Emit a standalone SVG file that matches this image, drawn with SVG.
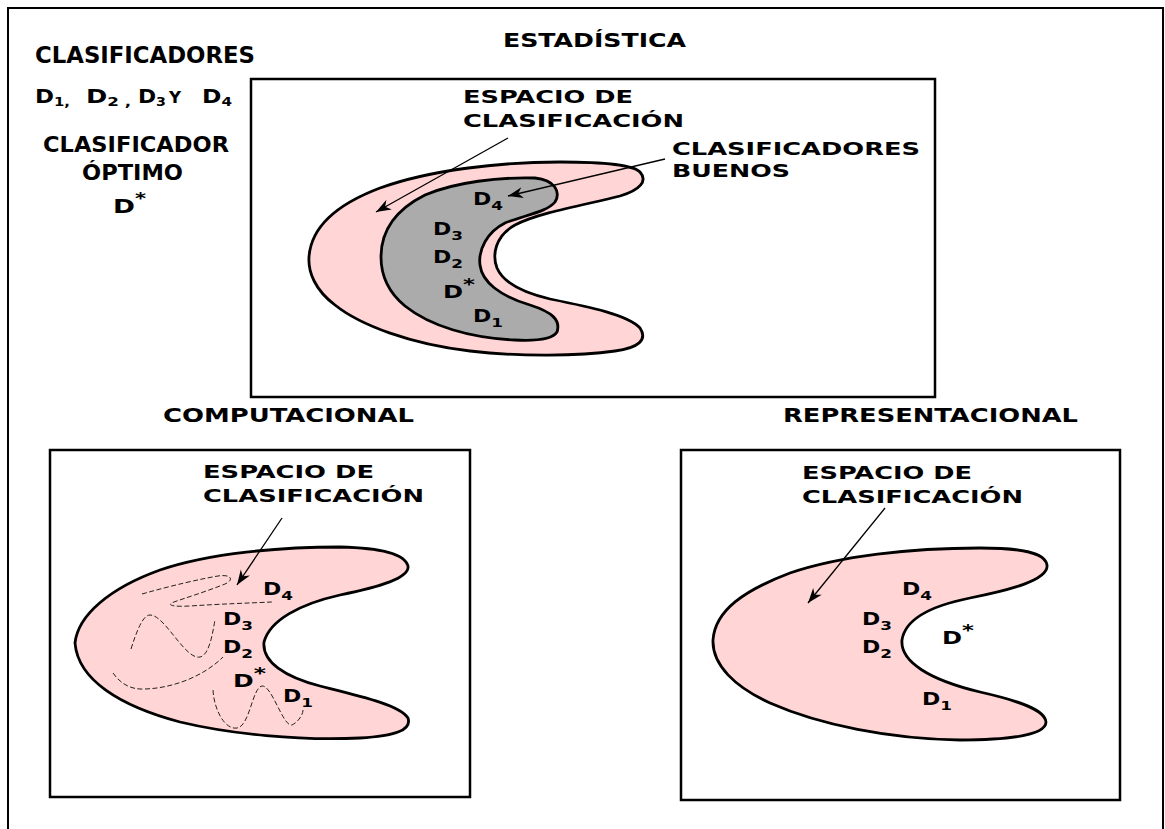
<svg xmlns="http://www.w3.org/2000/svg" width="1165" height="829" viewBox="0 0 1165 829">
<style>
text{font-family:"DejaVu Sans","Liberation Sans",sans-serif;font-weight:bold;fill:#000}
.box{fill:#fff;stroke:#000;stroke-width:2.5}
.region{fill:#ffd5d5;stroke:#000;stroke-width:2.8;stroke-linejoin:round}
.good{fill:#ababab;stroke:#000;stroke-width:2.8;stroke-linejoin:round}
.arrow{fill:none;stroke:#000;stroke-width:1.3;marker-end:url(#ah)}
.path{fill:none;stroke:#222;stroke-width:1;stroke-dasharray:5 2.5}
.hd{font-size:17.5px}
.ttl{font-size:19px}
.d{font-size:17px}
.sub{font-size:13px}
.sup{font-size:16px}
</style>
<defs>
<marker id="ah" viewBox="-16 -7 18 14" refX="0" refY="0" markerWidth="18" markerHeight="14" markerUnits="userSpaceOnUse" orient="auto">
<path d="M0,0 L-15,-5.5 L-10.5,0 L-15,5.5 Z" fill="#000"/>
</marker>
</defs>
<rect x="0" y="0" width="1165" height="829" fill="#fff"/>
<rect id="frame" x="8" y="8" width="1155" height="840" fill="none" stroke="#000" stroke-width="2"/>

<g id="legend">
<text x="35" y="63" font-size="22.5" textLength="220" lengthAdjust="spacingAndGlyphs">CLASIFICADORES</text>
<text x="35" y="103" font-size="20" textLength="35" lengthAdjust="spacingAndGlyphs">D<tspan class="sub" dy="3">1,</tspan></text>
<text x="86" y="103" font-size="20" textLength="45" lengthAdjust="spacingAndGlyphs">D<tspan class="sub" dy="3">2 ,</tspan></text>
<text x="138" y="103" font-size="20" textLength="28" lengthAdjust="spacingAndGlyphs">D<tspan class="sub" dy="3">3</tspan></text>
<text x="169" y="103" font-size="15.5" textLength="12" lengthAdjust="spacingAndGlyphs">Y</text>
<text x="202" y="103" font-size="20" textLength="30" lengthAdjust="spacingAndGlyphs">D<tspan class="sub" dy="3">4</tspan></text>
<text x="43" y="152" font-size="22" textLength="186" lengthAdjust="spacingAndGlyphs">CLASIFICADOR</text>
<text x="82" y="180" font-size="22" textLength="101" lengthAdjust="spacingAndGlyphs">ÓPTIMO</text>
<text x="113" y="213" font-size="20" textLength="33" lengthAdjust="spacingAndGlyphs">D<tspan class="sup" font-size="19" dy="-9">*</tspan></text>
</g>

<g id="estadistica">
<text class="ttl" x="503" y="47" textLength="183" lengthAdjust="spacingAndGlyphs">ESTADÍSTICA</text>
<rect class="box" x="251" y="79" width="684" height="318"/>
<path class="region" d="M309,257 C311,228 335,205 380,188 C430,170 500,162 560,162 C600,162 632,164 640,172 C648,181 640,190 620,196 C590,204 540,212 515,225 C495,236 492,255 497,268 C503,282 520,292 550,299 C590,307 628,315 640,328 C648,340 638,348 615,351 C580,356 520,357 470,351 C410,344 360,325 335,305 C315,290 308,272 309,257 Z"/>
<path class="good" d="M381,257 C381,232 395,210 425,195 C455,182 500,177 535,178 C555,180 561,192 555,202 C547,212 525,215 505,223 C487,232 478,250 480,265 C482,282 500,296 530,305 C552,312 561,320 557,332 C552,340 535,341 515,340 C470,338 430,326 405,306 C388,292 381,275 381,257 Z"/>
<text class="hd" x="463" y="103" textLength="170" lengthAdjust="spacingAndGlyphs">ESPACIO DE</text>
<text class="hd" x="463" y="127" textLength="221" lengthAdjust="spacingAndGlyphs">CLASIFICACIÓN</text>
<text class="hd" x="672" y="155" textLength="248" lengthAdjust="spacingAndGlyphs">CLASIFICADORES</text>
<text class="hd" x="672" y="177" textLength="118" lengthAdjust="spacingAndGlyphs">BUENOS</text>
<text class="d" x="473" y="205" textLength="30" lengthAdjust="spacingAndGlyphs">D<tspan class="sub" dy="5">4</tspan></text>
<text class="d" x="433" y="235" textLength="30" lengthAdjust="spacingAndGlyphs">D<tspan class="sub" dy="5">3</tspan></text>
<text class="d" x="433" y="263" textLength="30" lengthAdjust="spacingAndGlyphs">D<tspan class="sub" dy="5">2</tspan></text>
<text class="d" x="443" y="298" textLength="32" lengthAdjust="spacingAndGlyphs">D<tspan class="sup" dy="-8">*</tspan></text>
<text class="d" x="473" y="322" textLength="30" lengthAdjust="spacingAndGlyphs">D<tspan class="sub" dy="5">1</tspan></text>
</g>

<g id="computacional">
<text class="ttl" x="163" y="422" textLength="251" lengthAdjust="spacingAndGlyphs">COMPUTACIONAL</text>
<rect class="box" x="50" y="450" width="420" height="347"/>
<path class="region" d="M75,643 C78,615 110,588 160,570 C210,553 280,547 340,547 C385,548 405,555 408,566 C410,578 380,587 340,595 C300,604 270,620 264,642 C262,662 285,677 320,686 C360,696 400,705 408,718 C412,730 395,736 360,738 C300,741 230,734 180,722 C120,706 78,680 75,643 Z"/>
<text class="hd" x="203" y="478" textLength="171" lengthAdjust="spacingAndGlyphs">ESPACIO DE</text>
<text class="hd" x="203" y="502" textLength="221" lengthAdjust="spacingAndGlyphs">CLASIFICACIÓN</text>
<path class="path" d="M142,594 C170,586 200,579 218,576 C232,574 234,580 225,584 C205,592 185,598 174,602 C166,605 172,607 190,606 C220,604 250,603 272,602"/>
<path class="path" d="M131,649 C137,630 143,615 150,615 C165,615 185,660 200,657 C210,655 213,630 215,620"/>
<path class="path" d="M113,673 C120,683 130,690 145,689 C175,688 205,675 223,657"/>
<path class="path" d="M213,690 C214,710 225,730 237,728 C250,726 252,688 262,686 C272,685 283,727 292,725 C298,722 303,715 303,710"/>
<text class="d" x="263" y="595" textLength="30" lengthAdjust="spacingAndGlyphs">D<tspan class="sub" dy="5">4</tspan></text>
<text class="d" x="223" y="625" textLength="30" lengthAdjust="spacingAndGlyphs">D<tspan class="sub" dy="5">3</tspan></text>
<text class="d" x="223" y="653" textLength="30" lengthAdjust="spacingAndGlyphs">D<tspan class="sub" dy="5">2</tspan></text>
<text class="d" x="233" y="687" textLength="33" lengthAdjust="spacingAndGlyphs">D<tspan class="sup" dy="-8">*</tspan></text>
<text class="d" x="283" y="702" textLength="30" lengthAdjust="spacingAndGlyphs">D<tspan class="sub" dy="5">1</tspan></text>
</g>

<g id="representacional">
<text class="ttl" x="783" y="422" textLength="295" lengthAdjust="spacingAndGlyphs">REPRESENTACIONAL</text>
<rect class="box" x="681" y="450" width="439" height="350"/>
<path class="region" d="M713,640 C715,610 745,590 790,573 C840,556 910,548 980,548 C1020,548 1045,552 1047,565 C1049,580 1010,590 970,598 C930,606 905,620 902,640 C900,662 930,680 980,692 C1020,701 1045,710 1046,722 C1046,735 1010,740 960,740 C890,739 820,725 770,703 C735,687 712,665 713,640 Z"/>
<text class="hd" x="802" y="479" textLength="170" lengthAdjust="spacingAndGlyphs">ESPACIO DE</text>
<text class="hd" x="802" y="503" textLength="221" lengthAdjust="spacingAndGlyphs">CLASIFICACIÓN</text>
<text class="d" x="902" y="595" textLength="30" lengthAdjust="spacingAndGlyphs">D<tspan class="sub" dy="5">4</tspan></text>
<text class="d" x="862" y="625" textLength="30" lengthAdjust="spacingAndGlyphs">D<tspan class="sub" dy="5">3</tspan></text>
<text class="d" x="862" y="653" textLength="30" lengthAdjust="spacingAndGlyphs">D<tspan class="sub" dy="5">2</tspan></text>
<text class="d" x="942" y="644" textLength="32" lengthAdjust="spacingAndGlyphs">D<tspan class="sup" dy="-8">*</tspan></text>
<text class="d" x="922" y="705" textLength="30" lengthAdjust="spacingAndGlyphs">D<tspan class="sub" dy="5">1</tspan></text>
</g>

<g id="connectors">
<path class="arrow" d="M508,138 L376,212"/>
<path class="arrow" d="M665,159 L508,196"/>
<path class="arrow" d="M282,518 L237,585"/>
<path class="arrow" d="M885,508 L808,603"/>
</g>
</svg>
